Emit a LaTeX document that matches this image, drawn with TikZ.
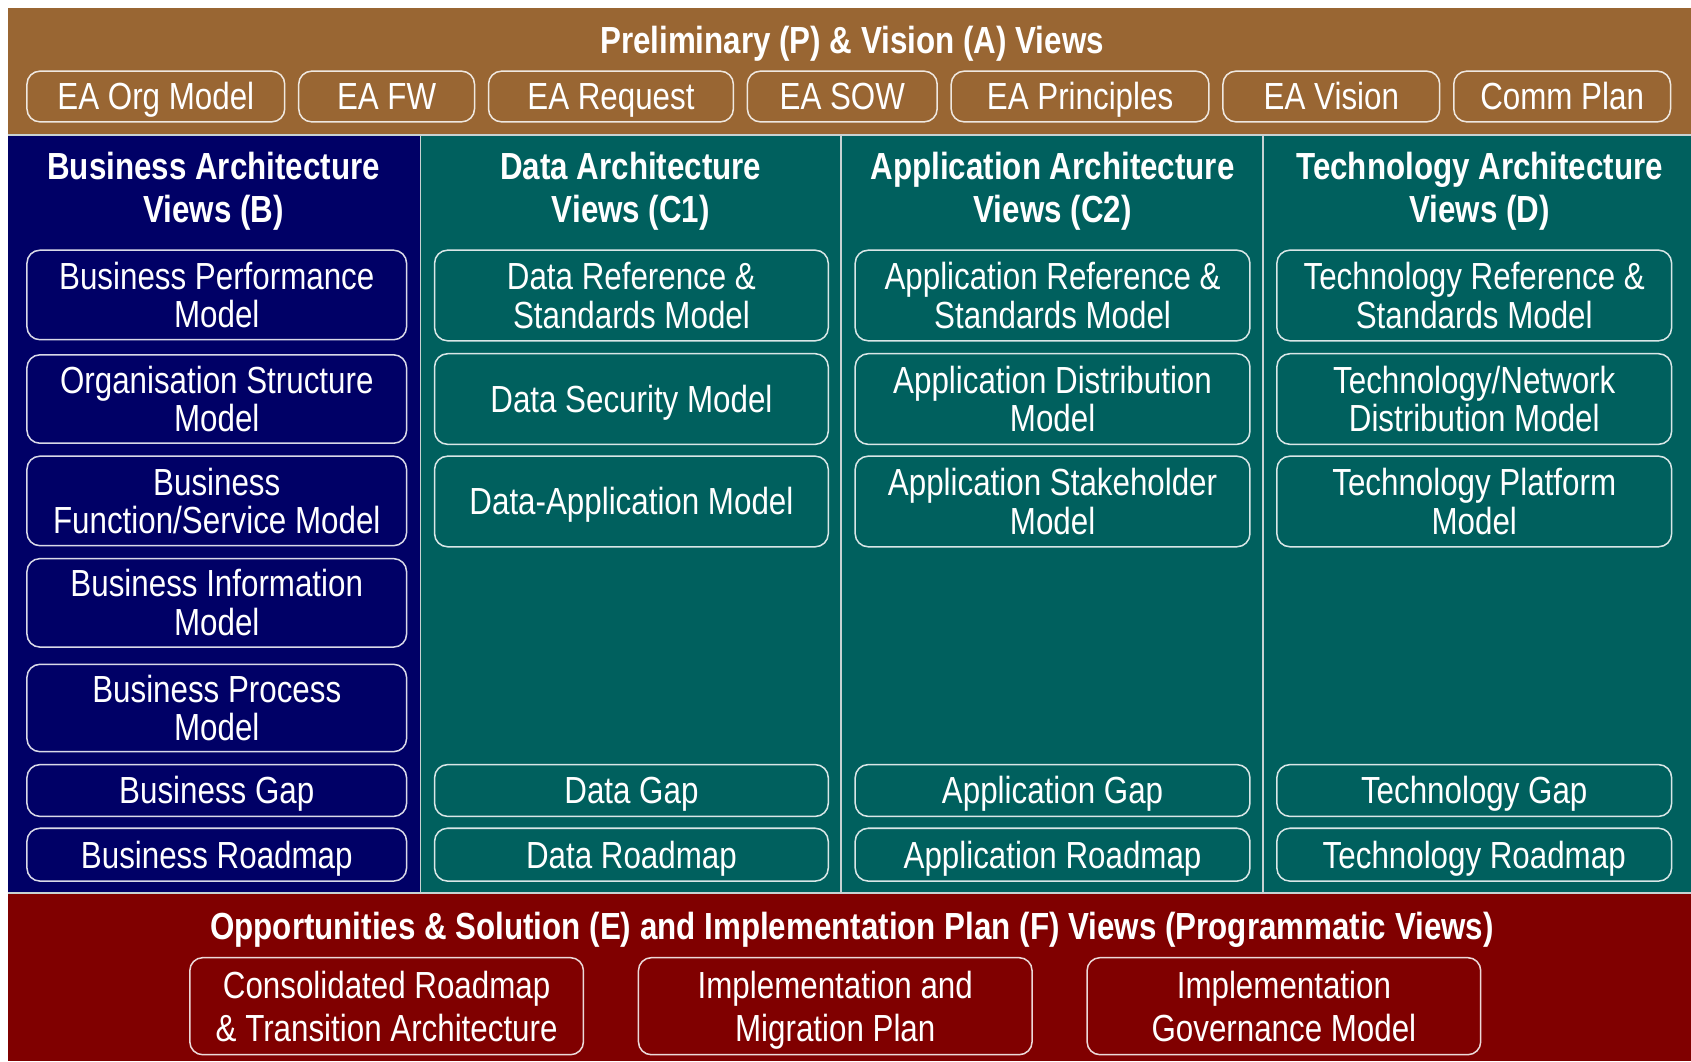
\documentclass[tikz,border=0pt]{standalone}
\usepackage{fontspec}
\setmainfont{Liberation Sans}[FakeStretch=0.83]
\definecolor{brownc}{RGB}{153,102,51}
\definecolor{navyc}{RGB}{0,0,102}
\definecolor{tealc}{RGB}{0,96,94}
\definecolor{redc}{RGB}{128,0,0}
\definecolor{sepc}{RGB}{200,210,210}
\newcommand{\topstrut}{\rule{0pt}{16.5pt}}
\newcommand{\botstrut}{\rule[-4pt]{0pt}{4pt}}
\tikzset{
  vbox/.style={draw=white, draw opacity=0.85, rounded corners=6pt, line width=0.7pt,
    text=white, align=center, inner sep=0pt, font=\fontsize{17.5pt}{18pt}\selectfont},
  wbox/.style={vbox, font=\fontsize{17.5pt}{20pt}\selectfont},
  ttl/.style={text=white, align=center, inner sep=0pt, font=\fontsize{17.5pt}{20pt}\selectfont\bfseries},
  sepline/.style={draw=sepc, line width=0.8pt}
}
\newcommand{\bx}[7][vbox]{%
  \node[#1, minimum width={0.5pt*(#5-#3)}, minimum height={0.5pt*(#6-#4)}]
    (#2) at ({(#3+#5)/2},{(#4+#6)/2}) {\topstrut#7\botstrut};}
\begin{document}
\begin{tikzpicture}[x=0.5pt,y=-0.5pt]
\useasboundingbox (0,0) rectangle (1568,984);
% bands
\fill[brownc] (7,7) rectangle (1568,125);
\fill[navyc] (7,125) rectangle (390,828);
\fill[tealc] (390,125) rectangle (1568,828);
\fill[redc] (7,828) rectangle (1568,984);
\draw[sepline] (7,125) -- (1568,125);
\draw[sepline] (7,828) -- (1568,828);
\draw[sepline] (390,125) -- (390,828);
\draw[sepline] (780,125) -- (780,828);
\draw[sepline] (1171,125) -- (1171,828);
% top
\node[ttl] (ptitle) at (790,37) {\topstrut Preliminary (P) \& Vision (A) Views\botstrut};
\bx{p1}{25}{66}{264}{113}{EA Org Model}
\bx{p2}{277}{66}{440}{113}{EA FW}
\bx{p3}{453}{66}{680}{113}{EA Request}
\bx{p4}{693}{66}{869}{113}{EA SOW}
\bx{p5}{882}{66}{1121}{113}{EA Principles}
\bx{p6}{1134}{66}{1335}{113}{EA Vision}
\bx{p7}{1348}{66}{1549}{113}{Comm Plan}
% column titles
\node[ttl] (btitle) at (198,174) {\topstrut Business Architecture\\Views (B)\botstrut};
\node[ttl] (dtitle) at (585,174) {\topstrut Data Architecture\\Views (C1)\botstrut};
\node[ttl] (atitle) at (976,174) {\topstrut Application Architecture\\Views (C2)\botstrut};
\node[ttl] (ttitle) at (1372,174) {\topstrut Technology Architecture\\Views (D)\botstrut};
% business
\bx{b1}{25}{232}{377}{315}{Business Performance\\Model}
\bx{b2}{25}{329}{377}{411}{Organisation Structure\\Model}
\bx{b3}{25}{423}{377}{506}{Business\\Function/Service Model}
\bx{b4}{25}{518}{377}{600}{Business Information\\Model}
\bx{b5}{25}{616}{377}{697}{Business Process\\Model}
\bx{b6}{25}{709}{377}{757}{Business Gap}
\bx{b7}{25}{768}{377}{817}{Business Roadmap}
% data
\bx{d1}{403}{232}{768}{316}{Data Reference \&\\Standards Model}
\bx{d2}{403}{328}{768}{412}{Data Security Model}
\bx{d3}{403}{423}{768}{507}{Data-Application Model}
\bx{d6}{403}{709}{768}{757}{Data Gap}
\bx{d7}{403}{768}{768}{817}{Data Roadmap}
% application
\bx{a1}{793}{232}{1159}{316}{Application Reference \&\\Standards Model}
\bx{a2}{793}{328}{1159}{412}{Application Distribution\\Model}
\bx{a3}{793}{423}{1159}{507}{Application Stakeholder\\Model}
\bx{a6}{793}{709}{1159}{757}{Application Gap}
\bx{a7}{793}{768}{1159}{817}{Application Roadmap}
% technology
\bx{t1}{1184}{232}{1550}{316}{Technology Reference \&\\Standards Model}
\bx{t2}{1184}{328}{1550}{412}{Technology/Network\\Distribution Model}
\bx{t3}{1184}{423}{1550}{507}{Technology Platform\\Model}
\bx{t6}{1184}{709}{1550}{757}{Technology Gap}
\bx{t7}{1184}{768}{1550}{817}{Technology Roadmap}
% bottom
\node[ttl] (etitle) at (790,859) {\topstrut Opportunities \& Solution (E) and Implementation Plan (F) Views (Programmatic Views)\botstrut};
\bx[wbox]{e1}{176}{888}{541}{978}{Consolidated Roadmap\\\& Transition Architecture}
\bx[wbox]{e2}{592}{888}{957}{978}{Implementation and\\Migration Plan}
\bx[wbox]{e3}{1008}{888}{1373}{978}{Implementation\\Governance Model}
\end{tikzpicture}
\end{document}
